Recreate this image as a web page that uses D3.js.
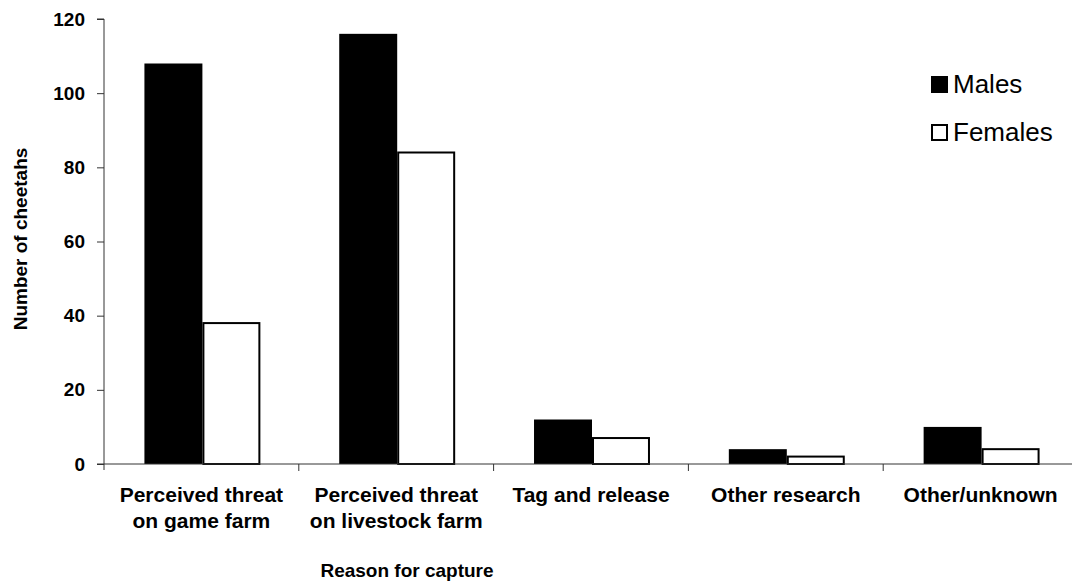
<!DOCTYPE html>
<html>
<head>
<meta charset="utf-8">
<script src="https://cdn.jsdelivr.net/npm/d3@7"></script>
<style>
  body { margin: 0; background: #fff; }
  svg text { font-family: "Liberation Sans", Arial, sans-serif; fill: #000; }
</style>
</head>
<body>
<div id="chart"></div>
<script>
const categories = [
  ["Perceived threat", "on game farm"],
  ["Perceived threat", "on livestock farm"],
  ["Tag and release"],
  ["Other research"],
  ["Other/unknown"]
];
const series = ["Males", "Females"];
const males = [108, 116, 12, 4, 10];
const females = [38, 84, 7, 2, 4];
const yTicks = [0, 20, 40, 60, 80, 100, 120];

const width = 1076, height = 582;
const svg = d3.select("#chart").append("svg")
    .attr("width", width).attr("height", height);

const keys = categories.map(c => c.join(" "));
const x0 = d3.scaleBand().domain(keys).range([104, 1078]).paddingInner(0).paddingOuter(0);
const x1 = d3.scaleBand().domain(series).range([0, x0.bandwidth()]).paddingInner(0).paddingOuter(0.68);
const y = d3.scaleLinear().domain([0, 120]).range([464, 19]);

const rows = keys.map((k, i) => ({key: k, values: [
  {s: "Males", v: males[i]},
  {s: "Females", v: females[i]}
]}));

// bars
const g = svg.append("g");
g.selectAll("g.grp")
  .data(rows)
  .join("g")
  .attr("class", "grp")
  .attr("transform", d => `translate(${x0(d.key) + 1},0)`)
  .selectAll("rect")
  .data(d => d.values)
  .join("rect")
  .attr("x", d => x1(d.s) + (d.s === "Females" ? 1 : 0))
  .attr("y", d => y(d.v))
  .attr("width", d => x1.bandwidth() - (d.s === "Females" ? 2 : 0))
  .attr("height", d => y(0) - y(d.v))
  .attr("fill", d => d.s === "Males" ? "#000" : "#fff")
  .attr("stroke", d => d.s === "Males" ? "none" : "#000")
  .attr("stroke-width", 2);

// y axis
const yAxis = svg.append("g")
  .attr("transform", "translate(104,0)")
  .call(d3.axisLeft(y).tickValues(yTicks).tickSize(7).tickPadding(12));
yAxis.select(".domain").attr("stroke", "#333").attr("d", `M-7,${y(120)}H0V${y(0) + 6}`);
yAxis.selectAll(".tick line").attr("stroke", "#333");
yAxis.selectAll(".tick text")
  .style("font-size", "19px").style("font-weight", "bold")
  .style("font-family", "'Liberation Sans', Arial, sans-serif");

// x axis
const xAxis = svg.append("g")
  .attr("transform", `translate(0,${y(0)})`)
  .call(d3.axisBottom(x0).tickSize(0).tickFormat(""));
xAxis.select(".domain").attr("stroke", "#333").attr("d", "M97,0H1072");
xAxis.selectAll(".sep")
  .data(keys.slice(1))
  .join("line")
  .attr("class", "sep")
  .attr("x1", d => x0(d)).attr("x2", d => x0(d))
  .attr("y1", 0).attr("y2", 7)
  .attr("stroke", "#333");

// category labels
const lab = svg.append("g");
rows.forEach((r, i) => {
  const cx = x0(r.key) + x0.bandwidth() / 2;
  const t = lab.append("text")
    .attr("x", cx)
    .attr("y", 502)
    .attr("text-anchor", "middle")
    .style("font-size", "21px").style("font-weight", "bold");
  categories[i].forEach((line, j) => {
    t.append("tspan").attr("x", cx)
      .attr("dy", j === 0 ? 0 : 26).text(line);
  });
});

// axis titles
svg.append("text")
  .attr("x", 407).attr("y", 577)
  .attr("text-anchor", "middle")
  .style("font-size", "19px").style("font-weight", "bold")
  .text("Reason for capture");

svg.append("text")
  .attr("transform", "translate(27,239) rotate(-90)")
  .attr("text-anchor", "middle")
  .style("font-size", "19px").style("font-weight", "bold")
  .text("Number of cheetahs");

// legend
const legend = svg.append("g").attr("transform", "translate(931,76)");
legend.selectAll("g")
  .data(series)
  .join("g")
  .attr("transform", (d, i) => `translate(0,${i * 48})`)
  .each(function (d) {
    const it = d3.select(this);
    it.append("rect")
      .attr("x", d === "Males" ? 0 : 1).attr("y", d === "Males" ? 0 : 1)
      .attr("width", d === "Males" ? 17 : 15).attr("height", d === "Males" ? 17 : 15)
      .attr("fill", d === "Males" ? "#000" : "#fff")
      .attr("stroke", d === "Males" ? "none" : "#000")
      .attr("stroke-width", 2);
    it.append("text")
      .attr("x", 22).attr("y", 17)
      .style("font-size", "26px")
      .text(d);
  });
</script>
</body>
</html>
